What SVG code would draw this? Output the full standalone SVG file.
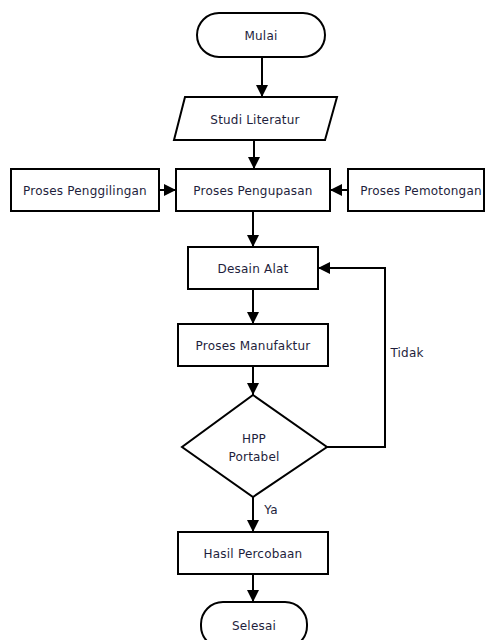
<svg xmlns="http://www.w3.org/2000/svg" width="485" height="640" viewBox="0 0 485 640">
<defs>
<marker id="ah" viewBox="0 0 12 12" refX="12" refY="6" markerWidth="12" markerHeight="12" markerUnits="userSpaceOnUse" orient="auto">
<path d="M0,0 L12,6 L0,12 z" fill="#000"/>
</marker>
<style>
.n{fill:#fff;stroke:#000;stroke-width:2}
.t{font-family:"DejaVu Sans",Verdana,sans-serif;font-size:12px;letter-spacing:0.2px;fill:#1e1e3c;text-anchor:middle}
.c{fill:none;stroke:#000;stroke-width:2;marker-end:url(#ah)}
</style>
</defs>
<rect width="485" height="640" fill="#fff"/>
<g id="connectors">
<path class="c" d="M262,57 V97"/>
<path class="c" d="M254,140 V169"/>
<path class="c" d="M159,190 H176"/>
<path class="c" d="M348,190 H330"/>
<path class="c" d="M253,211 V247"/>
<path class="c" d="M253,289 V324"/>
<path class="c" d="M253,366 V395"/>
<path class="c" d="M327,447 H385 V268 H318"/>
<path class="c" d="M253,497 V532"/>
<path class="c" d="M253,574 V602"/>
<text class="t" x="407" y="357">Tidak</text>
<text class="t" x="271" y="514">Ya</text>
</g>
<g id="mulai"><rect class="n" x="197" y="13" width="128" height="44" rx="22"/><text class="t" x="261" y="40">Mulai</text></g>
<g id="studi"><path class="n" d="M185,97 H337 L325,140 H174 z"/><text class="t" x="255" y="124">Studi Literatur</text></g>
<g id="penggilingan"><rect class="n" x="11" y="169" width="148" height="42"/><text class="t" x="85" y="195">Proses Penggilingan</text></g>
<g id="pengupasan"><rect class="n" x="176" y="169" width="154" height="42"/><text class="t" x="253" y="195">Proses Pengupasan</text></g>
<g id="pemotongan"><rect class="n" x="348" y="169" width="136" height="42"/><text class="t" x="421" y="195">Proses Pemotongan</text></g>
<g id="desain"><rect class="n" x="188" y="247" width="130" height="42"/><text class="t" x="253" y="273">Desain Alat</text></g>
<g id="manufaktur"><rect class="n" x="178" y="324" width="150" height="42"/><text class="t" x="253" y="350">Proses Manufaktur</text></g>
<g id="hpp"><path class="n" d="M253,395 L327,447 L253,497 L182,447 z"/><text class="t" x="254" y="443">HPP</text><text class="t" x="254" y="461">Portabel</text></g>
<g id="hasil"><rect class="n" x="178" y="532" width="150" height="42"/><text class="t" x="253" y="558">Hasil Percobaan</text></g>
<g id="selesai"><rect class="n" x="201" y="602" width="106" height="46" rx="22"/><text class="t" x="254" y="630">Selesai</text></g>
</svg>
